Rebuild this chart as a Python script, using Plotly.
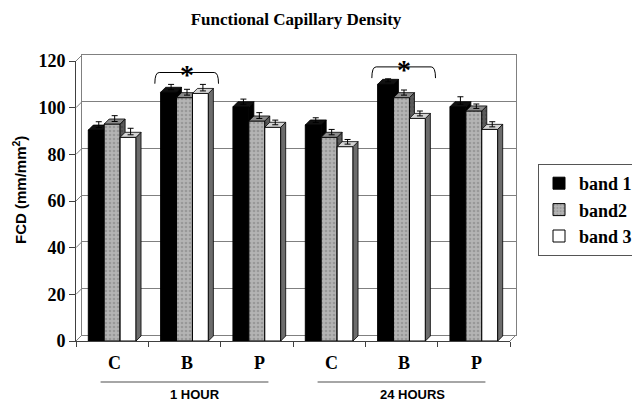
import plotly.graph_objects as go

# ---------------- data ----------------
categories = ["C", "B", "P", "C", "B", "P"]
periods = ["1 HOUR", "24 HOURS"]
series_names = ["band 1", "band2", "band 3"]
band1 = [90.4, 106.6, 100.4, 92.6, 110.0, 100.4]
band2 = [93.0, 104.3, 94.3, 87.3, 104.3, 98.6]
band3 = [87.3, 106.1, 91.6, 83.3, 95.4, 90.7]
err1 = [2.5, 2.3, 2.2, 2.0, 1.3, 3.2]
err2 = [2.5, 2.5, 2.5, 2.3, 2.2, 1.9]
err3 = [2.8, 2.8, 2.0, 2.0, 2.1, 2.2]
y_ticks = [0, 20, 40, 60, 80, 100, 120]
significant_groups = [1, 4]

# ---------------- geometry / style ----------------
W, H = 632, 402
ML, MR, MT, MB = 76, 116, 55, 61
PW, PH = W - ML - MR, H - MT - MB
DEPTH_X, DEPTH_Y = 6, 6            # wall depth in px
YMAX = 120
px_per_unit_y = (PH - DEPTH_Y) / YMAX
back_dx = DEPTH_X / PW
back_dy = DEPTH_Y / PH
front_x_dom = [0, 1 - back_dx]
front_y_dom = [0, 1 - back_dy]
back_x_dom = [back_dx, 1]
back_y_dom = [back_dy, 1]
XR = [-0.5, len(categories) - 0.5]
px_per_unit_x = PW * (1 - back_dx) / (XR[1] - XR[0])

BW = 0.22                          # bar width (x units)
dx = 5 / px_per_unit_x             # bar depth in x units
dy = 5 / px_per_unit_y             # bar depth in y units
offsets = [-BW, 0, BW]

serif = "Liberation Serif, Times New Roman, serif"
sans = "Liberation Sans, Arial, sans-serif"

values = [band1, band2, band3]
errors = [err1, err2, err3]
front_cols = ["#000000", "#b4b4b4", "#ffffff"]
side_cols = ["#000000", "#5a5a5a", "#6c6c6c"]
top_cols = ["#111111", "#8a8a8a", "#d4d4d4"]


def paper_y(ypx):
    """pixel row (from top of figure) -> paper y"""
    return (H - MB - ypx) / PH


def paper_x(xpx):
    return (xpx - ML) / PW


fig = go.Figure()
# invisible trace to materialise the back wall subplot
fig.add_trace(go.Scatter(x=[None], y=[None], xaxis="x", yaxis="y",
                         showlegend=False, hoverinfo="skip"))

axes_ids = [("x2", "y2"), ("x3", "y3"), ("x4", "y4")]
for i in range(3):
    xa, ya = axes_ids[i]
    xs = [g + offsets[i] for g in range(len(categories))]
    vals = values[i]
    pattern = None
    if i == 1:
        pattern = dict(shape=".", fgcolor="#7c7c7c", size=4, solidity=0.35, fillmode="overlay")
    fig.add_trace(go.Bar(
        x=xs, y=vals, width=BW, name=series_names[i], xaxis=xa, yaxis=ya,
        marker=dict(color=front_cols[i], line=dict(color="#000000", width=1),
                    pattern=pattern),
        hoverinfo="skip"))
    # side and top faces
    sx, sy, tx, ty = [], [], [], []
    for xc, v in zip(xs, vals):
        xl, xr = xc - BW / 2, xc + BW / 2
        sx += [xr, xr + dx, xr + dx, xr, xr, None]
        sy += [0, dy, v + dy, v, 0, None]
        tx += [xl, xl + dx, xr + dx, xr, xl, None]
        ty += [v, v + dy, v + dy, v, v, None]
    fig.add_trace(go.Scatter(
        x=sx, y=sy, mode="lines", fill="toself", fillcolor=side_cols[i],
        line=dict(color="#000000", width=0.8), xaxis=xa, yaxis=ya,
        showlegend=False, hoverinfo="skip",
        fillpattern=(dict(shape=".", fgcolor="#3c3c3c", size=4, solidity=0.3, fillmode="overlay",
                          bgcolor=side_cols[i]) if i == 1 else None)))
    fig.add_trace(go.Scatter(
        x=tx, y=ty, mode="lines", fill="toself", fillcolor=top_cols[i],
        line=dict(color="#000000", width=0.8), xaxis=xa, yaxis=ya,
        showlegend=False, hoverinfo="skip"))
    # error bars from top-face centre
    fig.add_trace(go.Scatter(
        x=[x + dx / 2 for x in xs], y=[v + dy / 2 for v in vals], mode="markers",
        marker=dict(size=1, color="rgba(0,0,0,0)"),
        error_y=dict(type="data", symmetric=False, array=errors[i],
                     arrayminus=[0] * len(vals), color="#000000", thickness=1, width=3),
        xaxis=xa, yaxis=ya, showlegend=False, hoverinfo="skip"))

shapes = []
annotations = []


def back_py(v):
    return back_y_dom[0] + v / YMAX * (back_y_dom[1] - back_y_dom[0])


def front_py(v):
    return front_y_dom[0] + v / YMAX * (front_y_dom[1] - front_y_dom[0])


# left wall diagonals
for v in y_ticks:
    shapes.append(dict(type="line", xref="paper", yref="paper",
                       x0=back_x_dom[0], y0=back_py(v), x1=0, y1=front_py(v),
                       line=dict(color="#808080", width=1)))
# floor right edge
shapes.append(dict(type="line", xref="paper", yref="paper",
                   x0=front_x_dom[1], y0=front_py(0), x1=1, y1=back_py(0),
                   line=dict(color="#808080", width=1)))

# significance brackets with asterisks
for g in significant_groups:
    top_vals = [values[i][g] + dy / 2 + errors[i][g] for i in range(3)]
    y_end = max(top_vals) + 0.3
    y_top = y_end + 4.8
    x0, x1 = g - 0.41, g + 0.47
    r = 0.06
    path = (f"M {x0},{y_end} Q {x0},{y_top} {x0 + r},{y_top} "
            f"L {x1 - r},{y_top} Q {x1},{y_top} {x1},{y_end}")
    shapes.append(dict(type="path", xref="x2", yref="y2", path=path,
                       line=dict(color="#000000", width=1), layer="above"))
    annotations.append(dict(x=(x0 + x1) / 2, y=y_top + 1.2, xref="x2", yref="y2",
                            text="*", showarrow=False, yanchor="middle", yshift=-5,
                            font=dict(family=serif, size=28, color="#000000", weight="bold")))

# category labels
for g, c in enumerate(categories):
    annotations.append(dict(x=g + 0.03, y=paper_y(363), xref="x2", yref="paper",
                            text=c, showarrow=False, yanchor="middle",
                            font=dict(family=serif, size=18, color="#000000", weight="bold")))
# period lines and labels
for k, p in enumerate(periods):
    mid = 3 * k + 1
    shapes.append(dict(type="line", xref="x2", yref="paper",
                       x0=mid - 1.16, x1=mid + 1.16,
                       y0=paper_y(382), y1=paper_y(382),
                       line=dict(color="#888888", width=1.5)))
    annotations.append(dict(x=mid + 0.15, y=paper_y(394), xref="x2", yref="paper",
                            text=p, showarrow=False, yanchor="middle",
                            font=dict(family=sans, size=13, color="#000000", weight="bold")))

# y axis title
annotations.append(dict(x=paper_x(20), y=paper_y(190), xref="paper", yref="paper",
                        text="FCD (mm/mm<sup>2</sup>)", showarrow=False, textangle=-90,
                        xanchor="center", yanchor="middle",
                        font=dict(family=sans, size=15, color="#000000", weight="bold")))

hidden = dict(visible=False, showgrid=False, zeroline=False)
fig.update_layout(
    width=W, height=H, autosize=False,
    margin=dict(l=ML, r=MR, t=MT, b=MB, autoexpand=False),
    paper_bgcolor="#ffffff", plot_bgcolor="rgba(0,0,0,0)",
    barmode="overlay",
    title=dict(text="Functional Capillary Density", x=(ML + PW / 2) / W, xanchor="center",
               y=1 - 19 / H, yanchor="middle", xref="container", yref="container",
               font=dict(family=serif, size=17, color="#000000", weight="bold")),
    xaxis=dict(domain=back_x_dom, anchor="y", range=XR, showline=True, mirror=True,
               linecolor="#808080", linewidth=1, showgrid=False, zeroline=False,
               showticklabels=False, ticks=""),
    yaxis=dict(domain=back_y_dom, anchor="x", range=[0, YMAX], showline=True, mirror=True,
               linecolor="#808080", linewidth=1, showgrid=True, gridcolor="#808080",
               gridwidth=1, tickvals=y_ticks, zeroline=False, showticklabels=False, ticks=""),
    xaxis2=dict(domain=front_x_dom, anchor="y2", range=XR, showline=True,
                linecolor="#404040", linewidth=1, showgrid=False, zeroline=False,
                tickvals=[g - 0.5 for g in range(len(categories) + 1)],
                showticklabels=False, ticks="outside", ticklen=5,
                tickcolor="#404040"),
    yaxis2=dict(domain=front_y_dom, anchor="x2", range=[0, YMAX], showline=True,
                linecolor="#404040", linewidth=1, showgrid=False, zeroline=False,
                tickvals=y_ticks, ticks="outside", ticklen=6, tickcolor="#404040",
                tickfont=dict(family=serif, size=18, color="#000000", weight="bold")),
    xaxis3=dict(overlaying="x2", anchor="y3", range=XR, **hidden),
    yaxis3=dict(overlaying="y2", anchor="x3", range=[0, YMAX], **hidden),
    xaxis4=dict(overlaying="x2", anchor="y4", range=XR, **hidden),
    yaxis4=dict(overlaying="y2", anchor="x4", range=[0, YMAX], **hidden),
    legend=dict(x=paper_x(538), y=paper_y(164), xanchor="left", yanchor="top",
                bordercolor="#555555", borderwidth=1, bgcolor="#ffffff",
                font=dict(family=serif, size=18, color="#000000", weight="bold"),
                tracegroupgap=0),
    shapes=shapes, annotations=annotations,
    showlegend=True,
)

fig.write_html("out.html", config={"displayModeBar": False},
               post_script="document.body.style.margin='0';document.body.style.overflow='hidden';")
